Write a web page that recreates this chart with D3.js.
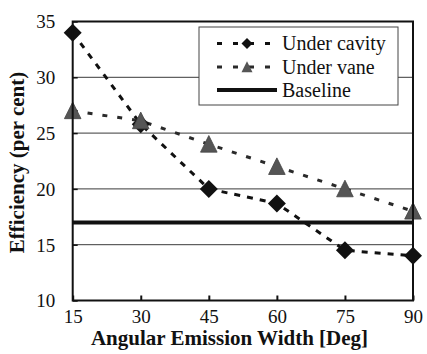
<!DOCTYPE html>
<html>
<head>
<meta charset="utf-8">
<script src="https://cdn.jsdelivr.net/npm/d3@7"></script>
<style>
  html, body { margin: 0; padding: 0; background: #fff; }
  svg { display: block; }
  svg text { font-family: "Liberation Serif", "Times New Roman", serif; fill: #111; }
</style>
</head>
<body>
<div id="chart"></div>
<script>
// ---- data ----
const categories = [15, 30, 45, 60, 75, 90];
const underCavity = [34, 25.8, 20, 18.7, 14.5, 14];
const underVane = [27, 26.1, 24, 22, 20, 18];
const baselineValue = 17;
const xTickValues = [15, 30, 45, 60, 75, 90];
const yTickValues = [10, 15, 20, 25, 30, 35];
const gridValues = [15, 20, 25, 30];
const seriesNames = ["Under cavity", "Under vane", "Baseline"];
const xTitle = "Angular Emission Width [Deg]";
const yTitle = "Efficiency (per cent)";

// ---- layout ----
const W = 427, H = 354;
const L = 72.7, R = 413, T = 21.5, B = 300.5;
const FONT = "'Liberation Serif', 'Times New Roman', serif";

const svg = d3.select("#chart").append("svg").attr("width", W).attr("height", H)
  .attr("font-family", FONT);

const x = d3.scaleLinear().domain([15, 90]).range([L, R]);
const y = d3.scaleLinear().domain([10, 35]).range([B, T]);

// gridlines
svg.append("g").selectAll("line").data(gridValues).join("line")
  .attr("x1", L).attr("x2", R)
  .attr("y1", d => y(d)).attr("y2", d => y(d))
  .attr("stroke", "#3a3a3a").attr("stroke-width", 1);

// axes
const gx = svg.append("g").attr("transform", `translate(0,${B})`)
  .call(d3.axisBottom(x).tickValues(xTickValues).tickSize(-5).tickFormat(d3.format("d")));
gx.attr("font-family", FONT).attr("font-size", 19);
gx.select(".domain").remove();
gx.selectAll("line").attr("stroke", "#111").attr("stroke-width", 2);
gx.selectAll("text").attr("y", 22).attr("dy", 0);

const gy = svg.append("g").attr("transform", `translate(${L},0)`)
  .call(d3.axisLeft(y).tickValues(yTickValues).tickSize(-5).tickFormat(d3.format("d")));
gy.attr("font-family", FONT).attr("font-size", 19);
gy.select(".domain").remove();
gy.selectAll("line").attr("stroke", "#111").attr("stroke-width", 1.5);
gy.selectAll("text").attr("x", -17.5).attr("dy", "0.34em");

// baseline
svg.append("line")
  .attr("x1", L).attr("x2", R)
  .attr("y1", y(baselineValue)).attr("y2", y(baselineValue))
  .attr("stroke", "#111").attr("stroke-width", 4);

// series lines
const line = d3.line().x((d, i) => x(categories[i])).y(d => y(d));
svg.append("path").datum(underCavity).attr("d", line)
  .attr("fill", "none").attr("stroke", "#111").attr("stroke-width", 3)
  .attr("stroke-dasharray", "6,7");
svg.append("path").datum(underVane).attr("d", line)
  .attr("fill", "none").attr("stroke", "#2a2a2a").attr("stroke-width", 3)
  .attr("stroke-dasharray", "5,10");

// markers
function diamondPath(s) {
  return `M0,${-s}L${s},0L0,${s}L${-s},0Z`;
}
function triPath(s) {
  return `M0,${-s * 1.05}L${s},${s * 0.95}L${-s},${s * 0.95}Z`;
}
svg.append("g").selectAll("path").data(underCavity).join("path")
  .attr("transform", (d, i) => `translate(${x(categories[i])},${y(d)})`)
  .attr("d", diamondPath(9))
  .attr("fill", "#111");
svg.append("g").selectAll("path").data(underVane).join("path")
  .attr("transform", (d, i) => `translate(${x(categories[i])},${y(d)})`)
  .attr("d", triPath(8.3))
  .attr("fill", "#555").attr("stroke", "#444").attr("stroke-width", 0.8);

// frame
svg.append("rect").attr("x", L).attr("y", T).attr("width", R - L).attr("height", B - T)
  .attr("fill", "none").attr("stroke", "#111").attr("stroke-width", 2);

// legend
const lg = svg.append("g");
lg.append("rect").attr("x", 199).attr("y", 27).attr("width", 199).attr("height", 78)
  .attr("fill", "#fff").attr("stroke", "#444").attr("stroke-width", 1);
const rows = [43.5, 67, 90];
const sx1 = 217, sx2 = 277, sxm = 247;
lg.append("line").attr("x1", sx1).attr("x2", sx2).attr("y1", rows[0]).attr("y2", rows[0])
  .attr("stroke", "#111").attr("stroke-width", 3).attr("stroke-dasharray", "5,11");
lg.append("path").attr("transform", `translate(${sxm},${rows[0]})`).attr("d", diamondPath(5.5)).attr("fill", "#111");
lg.append("line").attr("x1", sx1).attr("x2", sx2).attr("y1", rows[1]).attr("y2", rows[1])
  .attr("stroke", "#2a2a2a").attr("stroke-width", 3).attr("stroke-dasharray", "5,11");
lg.append("path").attr("transform", `translate(${sxm},${rows[1]})`).attr("d", triPath(5.5)).attr("fill", "#555");
lg.append("line").attr("x1", sx1).attr("x2", sx2).attr("y1", rows[2]).attr("y2", rows[2])
  .attr("stroke", "#111").attr("stroke-width", 4);
lg.selectAll("text").data(seriesNames).join("text")
  .attr("x", 282).attr("y", (d, i) => rows[i]).attr("dy", "0.33em")
  .attr("font-size", 20).text(d => d);

// axis titles
svg.append("text").attr("x", 229.5).attr("y", 345).attr("text-anchor", "middle")
  .attr("font-size", 21).attr("font-weight", "bold").text(xTitle);
svg.append("text").attr("transform", `translate(23.5,162.5) rotate(-90)`).attr("text-anchor", "middle")
  .attr("font-size", 21).attr("font-weight", "bold").text(yTitle);
</script>
</body>
</html>
